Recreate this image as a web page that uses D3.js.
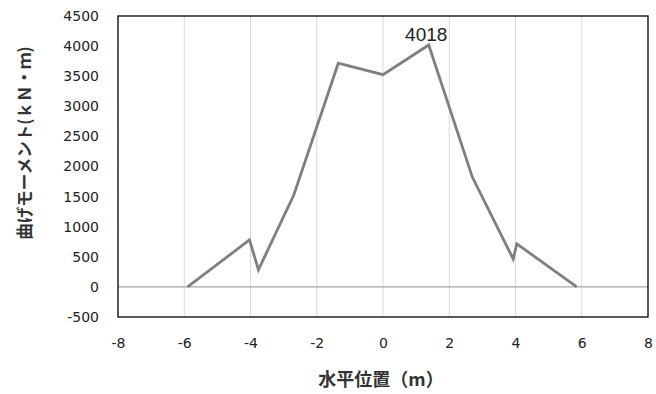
<!DOCTYPE html>
<html><head><meta charset="utf-8">
<script src="https://cdn.jsdelivr.net/npm/d3@7"></script>
<style>body{margin:0;background:#fff}</style>
</head><body>
<svg id="c" width="656" height="394"></svg>
<script>
const xPos = [-5.9, -4.03, -3.76, -2.69, -1.35, 0, 1.38, 2.7, 3.93, 4.04, 5.85];
const moment = [0, 780, 285, 1530, 3716, 3525, 4018, 1820, 465, 715, 0];
const xTicks = [-8, -6, -4, -2, 0, 2, 4, 6, 8];
const yTicks = [-500, 0, 500, 1000, 1500, 2000, 2500, 3000, 3500, 4000, 4500];
const peakLabel = "4018";

const svg = d3.select("#c");
const L = 118, R = 648, T = 16, B = 317;
const x = d3.scaleLinear().domain([-8, 8]).range([L, R]);
const y = d3.scaleLinear().domain([-500, 4500]).range([B, T]);
const font = "'DejaVu Sans', sans-serif";
const fmt = d => String(d);

// gridlines
svg.append("g").selectAll("line").data(xTicks.slice(1, -1)).join("line")
  .attr("x1", d => x(d)).attr("x2", d => x(d)).attr("y1", T).attr("y2", B)
  .attr("stroke", "#d9d9d9").attr("stroke-width", 1);
// zero line
svg.append("line").attr("x1", L).attr("x2", R).attr("y1", y(0)).attr("y2", y(0))
  .attr("stroke", "#a6a6a6").attr("stroke-width", 1.2);
// frame
svg.append("rect").attr("x", L).attr("y", T).attr("width", R - L).attr("height", B - T)
  .attr("fill", "none").attr("stroke", "#000").attr("stroke-width", 1.3);

// axes (labels only)
const xAxis = d3.axisBottom(x).tickValues(xTicks).tickSize(0).tickPadding(21).tickFormat(fmt);
const gx = svg.append("g").attr("transform", `translate(0,${B})`).call(xAxis);
gx.select(".domain").remove();
gx.selectAll("text").attr("font-family", font).attr("font-size", 14).attr("fill", "#222");

const yAxis = d3.axisLeft(y).tickValues(yTicks).tickSize(0).tickPadding(19).tickFormat(fmt);
const gy = svg.append("g").attr("transform", `translate(${L},0)`).call(yAxis);
gy.select(".domain").remove();
gy.selectAll("text").attr("font-family", font).attr("font-size", 14).attr("fill", "#222");

// line
const pts = xPos.map((d, i) => [d, moment[i]]);
svg.append("path").datum(pts)
  .attr("d", d3.line().x(d => x(d[0])).y(d => y(d[1])))
  .attr("fill", "none").attr("stroke", "#7f7f7f").attr("stroke-width", 2.8)
  .attr("stroke-linejoin", "miter");

// peak label
const pi = moment.indexOf(d3.max(moment));
svg.append("text").attr("x", x(xPos[pi]) - 2.5).attr("y", y(moment[pi]) - 4)
  .attr("text-anchor", "middle").attr("font-family", "'Liberation Sans', sans-serif").attr("font-size", 19)
  .attr("fill", "#222").text(peakLabel);

// axis titles
svg.append("text").attr("x", 381).attr("y", 386).attr("text-anchor", "middle")
  .attr("font-family", "'Noto Sans CJK JP', sans-serif").attr("font-weight", "bold")
  .attr("font-size", 18).attr("fill", "#333").text("水平位置（m）");
svg.append("text").attr("transform", "translate(31,143) rotate(-90)").attr("text-anchor", "middle")
  .attr("font-family", "'Noto Sans CJK JP', sans-serif").attr("font-weight", "bold")
  .attr("font-size", 16.5).attr("fill", "#333").text("曲げモーメント(ｋＮ・ｍ)");
</script>
</body></html>
